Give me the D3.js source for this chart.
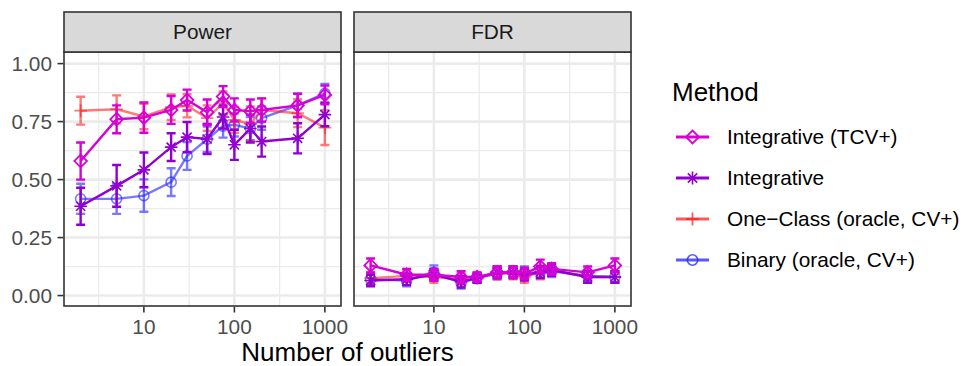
<!DOCTYPE html>
<html><head><meta charset="utf-8">
<script src="https://cdn.jsdelivr.net/npm/d3@7"></script>
<style>body{margin:0;background:#fff}svg{display:block;font-family:"Liberation Sans",Arial,sans-serif}</style>
</head><body>
<svg id="c" width="964" height="366"></svg>
<script>
const outliers = [2,5,10,20,30,50,75,100,150,200,500,1000];
const panelNames = ["Power","FDR"];
const methods = ["Integrative (TCV+)","Integrative","One\u2212Class (oracle, CV+)","Binary (oracle, CV+)"];
const colors = ["#D800D8","#9000D0","#FF2020","#2020FF"];
const opac = [1,1,0.6,0.6];
const shapes = ["diamond","asterisk","plus","circle"];
const yTicks = [0,0.25,0.5,0.75,1];
const yTickLabels = ["0.00","0.25","0.50","0.75","1.00"];
const xTicks = [10,100,1000];
const xTickLabels = ["10","100","1000"];

// Power
const powTCV   = [0.58,0.76,0.767,0.80,0.843,0.79,0.858,0.80,0.795,0.80,0.82,0.865];
const powInt   = [0.385,0.473,0.542,0.64,0.683,0.675,0.77,0.65,0.72,0.664,0.678,0.78];
const powOne   = [0.797,0.803,0.772,0.812,0.818,0.765,0.83,0.757,0.74,0.80,0.786,0.724];
const powBin   = [0.417,0.417,0.431,0.489,0.602,0.674,0.731,0.736,0.72,0.765,0.82,0.872];
const powTCVe  = [0.08,0.06,0.065,0.06,0.045,0.055,0.045,0.05,0.05,0.05,0.05,0.04];
const powInte  = [0.08,0.09,0.075,0.06,0.065,0.065,0.05,0.065,0.06,0.065,0.065,0.05];
const powOnee  = [0.06,0.06,0.055,0.055,0.05,0.055,0.05,0.055,0.075,0.05,0.06,0.075];
const powBine  = [0.065,0.065,0.07,0.06,0.06,0.055,0.05,0.05,0.05,0.05,0.05,0.04];
// FDR
const fdrTCV   = [0.13,0.09,0.09,0.08,0.08,0.10,0.10,0.095,0.125,0.115,0.10,0.13];
const fdrInt   = [0.065,0.07,0.09,0.06,0.075,0.10,0.10,0.09,0.10,0.11,0.08,0.08];
const fdrOne   = [0.075,0.085,0.08,0.07,0.08,0.095,0.095,0.08,0.10,0.11,0.08,0.08];
const fdrBin   = [0.07,0.065,0.10,0.055,0.075,0.095,0.10,0.10,0.10,0.105,0.085,0.08];
const fdrTCVe  = [0.03,0.025,0.025,0.025,0.02,0.025,0.025,0.025,0.03,0.025,0.025,0.03];
const fdrInte  = [0.025,0.025,0.025,0.025,0.02,0.025,0.025,0.025,0.025,0.025,0.025,0.025];
const fdrOnee  = [0.025,0.025,0.025,0.025,0.02,0.025,0.025,0.025,0.03,0.025,0.025,0.025];
const fdrBine  = [0.025,0.025,0.03,0.025,0.02,0.025,0.025,0.025,0.025,0.025,0.025,0.025];

const vals = [[powTCV,powInt,powOne,powBin],[fdrTCV,fdrInt,fdrOne,fdrBin]];
const errs = [[powTCVe,powInte,powOnee,powBine],[fdrTCVe,fdrInte,fdrOnee,fdrBine]];

const svg = d3.select("#c");
const pTop = 52, pBottom = 306, stripTop = 12;
const panels = [{x0:64,x1:341},{x0:354,x1:631}];
const y = d3.scaleLinear().domain([-0.045,1.05]).range([pBottom,pTop]);
const drawOrder = [3,2,1,0];

function symbolPath(shape, cx, cy, g, color, op, s) {
  s = s || 6.3;
  if (shape === "diamond") {
    g.append("path").attr("d",`M${cx},${cy-s}L${cx+s},${cy}L${cx},${cy+s}L${cx-s},${cy}Z`)
      .attr("fill","none").attr("stroke",color).attr("stroke-width",1.8).attr("stroke-opacity",op);
  } else if (shape === "circle") {
    g.append("circle").attr("cx",cx).attr("cy",cy).attr("r",s*0.8)
      .attr("fill","none").attr("stroke",color).attr("stroke-width",1.6).attr("stroke-opacity",op);
  } else if (shape === "plus") {
    g.append("path").attr("d",`M${cx-s},${cy}H${cx+s}M${cx},${cy-s}V${cy+s}`)
      .attr("stroke",color).attr("stroke-width",1.8).attr("stroke-opacity",op);
  } else if (shape === "asterisk") {
    const d = s*0.72;
    g.append("path").attr("d",`M${cx-s},${cy}H${cx+s}M${cx-d},${cy-d}L${cx+d},${cy+d}M${cx-d},${cy+d}L${cx+d},${cy-d}M${cx},${cy-s}V${cy+s}`)
      .attr("stroke",color).attr("stroke-width",1.6).attr("stroke-opacity",op);
  }
}

panels.forEach((p,pi) => {
  const x = d3.scaleLog().domain([1.31,1507]).range([p.x0,p.x1]);
  const g = svg.append("g");
  const minorX = [Math.pow(10,0.5),Math.pow(10,1.5),Math.pow(10,2.5)];
  const minorY = [0.125,0.375,0.625,0.875];
  minorX.forEach(v => g.append("line").attr("x1",x(v)).attr("x2",x(v)).attr("y1",pTop).attr("y2",pBottom).attr("stroke","#EBEBEB").attr("stroke-width",1.3));
  minorY.forEach(v => g.append("line").attr("x1",p.x0).attr("x2",p.x1).attr("y1",y(v)).attr("y2",y(v)).attr("stroke","#EBEBEB").attr("stroke-width",1.3));
  xTicks.forEach(v => g.append("line").attr("x1",x(v)).attr("x2",x(v)).attr("y1",pTop).attr("y2",pBottom).attr("stroke","#EBEBEB").attr("stroke-width",2.6));
  yTicks.forEach(v => g.append("line").attr("x1",p.x0).attr("x2",p.x1).attr("y1",y(v)).attr("y2",y(v)).attr("stroke","#EBEBEB").attr("stroke-width",2.6));

  drawOrder.forEach(mi => {
    const v = vals[pi][mi], e = errs[pi][mi];
    const col = colors[mi], op = opac[mi];
    const gm = g.append("g");
    const line = d3.line().x((d,i)=>x(outliers[i])).y(d=>y(d));
    gm.append("path").attr("d",line(v)).attr("fill","none").attr("stroke",col).attr("stroke-width",2.4).attr("stroke-opacity",op);
    v.forEach((d,i) => {
      const cx = x(outliers[i]);
      const y1 = y(d+e[i]), y2 = y(d-e[i]);
      gm.append("path").attr("d",`M${cx},${y1}V${y2}M${cx-4.5},${y1}H${cx+4.5}M${cx-4.5},${y2}H${cx+4.5}`)
        .attr("fill","none").attr("stroke",col).attr("stroke-width",2.4).attr("stroke-opacity",op);
    });
    v.forEach((d,i) => symbolPath(shapes[mi], x(outliers[i]), y(d), gm, col, op));
  });

  g.append("rect").attr("x",p.x0).attr("y",pTop).attr("width",p.x1-p.x0).attr("height",pBottom-pTop)
    .attr("fill","none").attr("stroke","#333333").attr("stroke-width",1.6);
  g.append("rect").attr("x",p.x0).attr("y",stripTop).attr("width",p.x1-p.x0).attr("height",pTop-stripTop)
    .attr("fill","#D9D9D9").attr("stroke","#333333").attr("stroke-width",1.6);
  g.append("text").attr("x",(p.x0+p.x1)/2).attr("y",(stripTop+pTop)/2+7).attr("text-anchor","middle")
    .attr("font-size",20.8).attr("fill","#1A1A1A").text(panelNames[pi]);

  xTicks.forEach((v,i) => {
    g.append("line").attr("x1",x(v)).attr("x2",x(v)).attr("y1",pBottom+0.8).attr("y2",pBottom+6.5).attr("stroke","#333333").attr("stroke-width",1.6);
    g.append("text").attr("x",x(v)).attr("y",334).attr("text-anchor","middle").attr("font-size",20.8).attr("fill","#4D4D4D").text(xTickLabels[i]);
  });
  if (pi === 0) {
    yTicks.forEach((v,i) => {
      g.append("line").attr("x1",p.x0-6.5).attr("x2",p.x0-0.8).attr("y1",y(v)).attr("y2",y(v)).attr("stroke","#333333").attr("stroke-width",1.6);
      g.append("text").attr("x",p.x0-12).attr("y",y(v)+7.4).attr("text-anchor","end").attr("font-size",20.8).attr("fill","#4D4D4D").text(yTickLabels[i]);
    });
  }
});

svg.append("text").attr("x",(64+631)/2).attr("y",361).attr("text-anchor","middle").attr("font-size",26).attr("fill","#000").text("Number of outliers");

const lg = svg.append("g");
lg.append("text").attr("x",672).attr("y",101).attr("font-size",26).attr("fill","#000").text("Method");
const rowY = [137,178,219,260];
methods.forEach((m,i) => {
  const cy = rowY[i];
  lg.append("line").attr("x1",676).attr("x2",709).attr("y1",cy).attr("y2",cy).attr("stroke",colors[i]).attr("stroke-width",3).attr("stroke-opacity",i>1?0.75:1);
  symbolPath(shapes[i], 692.5, cy, lg, colors[i], i>1?0.75:1, 6.5);
  lg.append("text").attr("x",727).attr("y",cy+7.4).attr("font-size",20.8).attr("fill","#000").text(m);
});
</script>
</body></html>
